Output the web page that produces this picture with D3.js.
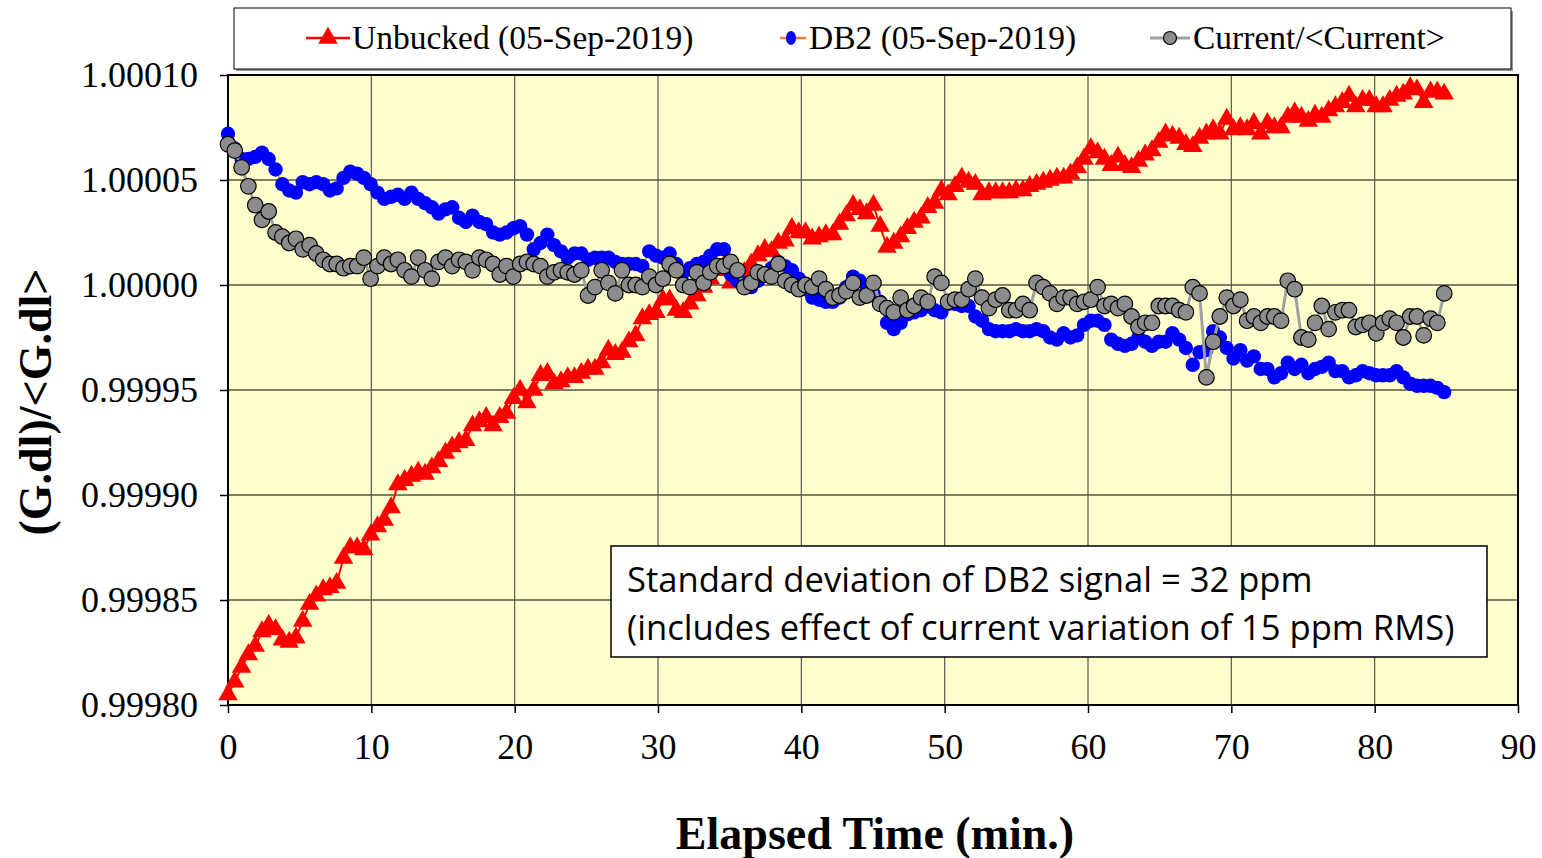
<!DOCTYPE html>
<html>
<head>
<meta charset="utf-8">
<script src="https://cdn.jsdelivr.net/npm/d3@7"></script>
<style>
  html, body { margin: 0; padding: 0; background: #fff; }
  svg { display: block; }
</style>
</head>
<body>
<svg id="chart" width="1542" height="858"></svg>
<script>
// ---------------- DATA ----------------
const times = [0,0.47,0.95,1.42,1.90,2.37,2.84,3.32,3.79,4.27,
4.74,5.21,5.69,6.16,6.64,7.11,7.58,8.06,8.53,9.01,
9.48,9.95,10.43,10.90,11.38,11.85,12.32,12.80,13.27,13.75,
14.22,14.69,15.17,15.64,16.12,16.59,17.06,17.54,18.01,18.49,
18.96,19.43,19.91,20.38,20.86,21.33,21.80,22.28,22.75,23.23,
23.70,24.17,24.65,25.12,25.60,26.07,26.54,27.02,27.49,27.97,
28.44,28.91,29.39,29.86,30.34,30.81,31.28,31.76,32.23,32.71,
33.18,33.65,34.13,34.60,35.08,35.55,36.02,36.50,36.97,37.45,
37.92,38.39,38.87,39.34,39.82,40.29,40.76,41.24,41.71,42.19,
42.66,43.13,43.61,44.08,44.56,45.03,45.50,45.98,46.45,46.93,
47.40,47.87,48.35,48.82,49.30,49.77,50.24,50.72,51.19,51.67,
52.14,52.61,53.09,53.56,54.04,54.51,54.98,55.46,55.93,56.41,
56.88,57.35,57.83,58.30,58.78,59.25,59.72,60.20,60.67,61.15,
61.62,62.09,62.57,63.04,63.52,63.99,64.46,64.94,65.41,65.89,
66.36,66.83,67.31,67.78,68.26,68.73,69.20,69.68,70.15,70.63,
71.10,71.57,72.05,72.52,73.00,73.47,73.94,74.42,74.89,75.37,
75.84,76.31,76.79,77.26,77.74,78.21,78.68,79.16,79.63,80.11,
80.58,81.05,81.53,82.00,82.48,82.95,83.42,83.90,84.37,84.85];

const unbucked = [0.999805,0.999811,0.999818,0.999824,0.999828,0.999835,0.999838,0.999836,0.999831,0.999830,
0.999832,0.999840,0.999848,0.999852,0.999855,0.999856,0.999858,0.999870,0.999875,0.999875,
0.999874,0.999881,0.999885,0.999888,0.999894,0.999905,0.999907,0.999909,0.999911,0.999910,
0.999913,0.999916,0.999920,0.999923,0.999925,0.999926,0.999933,0.999935,0.999937,0.999933,
0.999937,0.999939,0.999946,0.999950,0.999944,0.999950,0.999957,0.999958,0.999953,0.999954,
0.999956,0.999956,0.999958,0.999960,0.999960,0.999963,0.999969,0.999967,0.999968,0.999973,
0.999976,0.999984,0.999986,0.999987,0.999993,0.999993,0.999988,0.999987,0.999991,0.999995,
0.999999,1.000003,1.000007,1.000009,1.000001,1.000004,1.000006,1.000010,1.000014,1.000017,
1.000016,1.000020,1.000021,1.000027,1.000025,1.000025,1.000022,1.000023,1.000024,1.000024,
1.000029,1.000033,1.000038,1.000036,1.000034,1.000038,1.000028,1.000018,1.000020,1.000023,
1.000027,1.000030,1.000032,1.000037,1.000039,1.000045,1.000043,1.000047,1.000051,1.000049,
1.000048,1.000043,1.000044,1.000044,1.000044,1.000044,1.000045,1.000045,1.000047,1.000048,
1.000049,1.000050,1.000051,1.000051,1.000053,1.000056,1.000060,1.000065,1.000063,1.000060,
1.000057,1.000061,1.000057,1.000056,1.000059,1.000062,1.000064,1.000068,1.000072,1.000071,
1.000070,1.000067,1.000066,1.000070,1.000072,1.000074,1.000072,1.000079,1.000074,1.000075,
1.000074,1.000077,1.000072,1.000077,1.000075,1.000075,1.000080,1.000082,1.000080,1.000078,
1.000081,1.000080,1.000083,1.000085,1.000087,1.000090,1.000085,1.000088,1.000088,1.000085,
1.000085,1.000088,1.000090,1.000091,1.000094,1.000093,1.000087,1.000092,1.000092,1.000091];

const db2 = [1.000072,1.000065,1.000060,1.000060,1.000061,1.000063,1.000060,1.000055,1.000048,1.000045,
1.000044,1.000049,1.000048,1.000049,1.000048,1.000045,1.000046,1.000051,1.000054,1.000053,
1.000051,1.000048,1.000044,1.000041,1.000042,1.000043,1.000041,1.000044,1.000041,1.000039,
1.000037,1.000034,1.000036,1.000037,1.000032,1.000030,1.000033,1.000030,1.000029,1.000025,
1.000024,1.000025,1.000027,1.000028,1.000024,1.000017,1.000020,1.000024,1.000019,1.000016,
1.000013,1.000015,1.000015,1.000012,1.000013,1.000013,1.000013,1.000011,1.000010,1.000010,
1.000010,1.000009,1.000016,1.000014,1.000013,1.000015,1.000010,1.000006,1.000008,1.000010,
1.000011,1.000014,1.000017,1.000017,1.000005,1.000002,1.000001,0.999999,1.000002,1.000005,
1.000008,1.000011,1.000009,1.000007,1.000003,0.999998,0.999994,0.999993,0.999992,0.999992,
0.999994,0.999999,1.000004,1.000002,0.999999,0.999996,0.999992,0.999982,0.999979,0.999982,
0.999986,0.999987,0.999988,0.999990,0.999988,0.999987,0.999991,0.999991,0.999990,0.999990,
0.999985,0.999983,0.999979,0.999978,0.999978,0.999978,0.999979,0.999978,0.999978,0.999979,
0.999978,0.999975,0.999974,0.999977,0.999975,0.999976,0.999981,0.999983,0.999983,0.999981,
0.999974,0.999972,0.999971,0.999972,0.999975,0.999973,0.999971,0.999973,0.999973,0.999977,
0.999974,0.999970,0.999962,0.999968,0.999969,0.999978,0.999975,0.999970,0.999965,0.999969,
0.999964,0.999966,0.999960,0.999960,0.999956,0.999958,0.999963,0.999960,0.999962,0.999958,
0.999960,0.999961,0.999963,0.999959,0.999959,0.999956,0.999957,0.999959,0.999958,0.999957,
0.999957,0.999957,0.999959,0.999956,0.999953,0.999952,0.999952,0.999952,0.999951,0.999949];

const current = [1.000067,1.000064,1.000056,1.000047,1.000038,1.000031,1.000035,1.000025,1.000023,1.000020,
1.000022,1.000017,1.000019,1.000015,1.000012,1.000010,1.000010,1.000008,1.000009,1.000009,
1.000013,1.000003,1.000009,1.000013,1.000010,1.000012,1.000007,1.000004,1.000013,1.000007,
1.000003,1.000011,1.000013,1.000009,1.000012,1.000011,1.000007,1.000013,1.000012,1.000010,
1.000005,1.000009,1.000004,1.000010,1.000011,1.000010,1.000009,1.000004,1.000006,1.000007,
1.000006,1.000005,1.000007,0.999995,0.999999,1.000007,1.000001,0.999996,1.000007,1.000000,
1.000000,0.999999,1.000004,1.000000,1.000003,1.000010,1.000007,1.000000,0.999999,1.000006,
1.000001,1.000006,1.000009,1.000009,1.000011,1.000007,0.999999,1.000001,1.000006,1.000005,
1.000004,1.000010,1.000002,1.000000,0.999998,1.000000,0.999999,1.000003,0.999998,0.999994,
0.999995,0.999997,1.000001,0.999994,0.999995,1.000001,0.999991,0.999989,0.999987,0.999994,
0.999988,0.999990,0.999994,0.999992,1.000004,1.000001,0.999992,0.999993,0.999993,0.999998,
1.000003,0.999994,0.999989,0.999993,0.999995,0.999988,0.999988,0.999991,0.999988,1.000001,
0.999999,0.999996,0.999991,0.999994,0.999994,0.999991,0.999992,0.999993,0.999999,0.999990,
0.999991,0.999989,0.999991,0.999985,0.999980,0.999982,0.999982,0.999990,0.999990,0.999990,
0.999988,0.999987,0.999999,0.999996,0.999956,0.999973,0.999985,0.999994,0.999990,0.999993,
0.999983,0.999985,0.999982,0.999985,0.999985,0.999983,1.000002,0.999998,0.999975,0.999974,
0.999982,0.999990,0.999979,0.999987,0.999988,0.999988,0.999980,0.999981,0.999982,0.999977,
0.999982,0.999984,0.999982,0.999975,0.999985,0.999985,0.999976,0.999984,0.999982,0.999996];

const xTicks = [0, 10, 20, 30, 40, 50, 60, 70, 80, 90];
const yTicks = [0.99980, 0.99985, 0.99990, 0.99995, 1.00000, 1.00005, 1.00010];
const yTickLabels = ["0.99980", "0.99985", "0.99990", "0.99995", "1.00000", "1.00005", "1.00010"];
const seriesNames = ["Unbucked (05-Sep-2019)", "DB2 (05-Sep-2019)", "Current/<Current>"];
const xTitle = "Elapsed Time (min.)";
const yTitle = "(G.dl)/<G.dl>";
const noteLines = ["Standard deviation of DB2 signal = 32 ppm",
                   "(includes effect of current variation of 15 ppm RMS)"];

// ---------------- LAYOUT ----------------
const svg = d3.select("#chart");
const plot = { left: 228, right: 1518, top: 75, bottom: 705 };
const serif = "'Liberation Serif', 'Times New Roman', serif";

const x = d3.scaleLinear().domain([0, 90]).range([plot.left, plot.right]);
const y = d3.scaleLinear().domain([0.9998, 1.0001]).range([plot.bottom, plot.top]);

// plot background
svg.append("rect")
  .attr("x", plot.left).attr("y", plot.top)
  .attr("width", plot.right - plot.left).attr("height", plot.bottom - plot.top)
  .attr("fill", "#FFFFCC");

// grid
svg.append("g").selectAll("line").data(yTicks.slice(1, -1)).join("line")
  .attr("x1", plot.left).attr("x2", plot.right)
  .attr("y1", d => y(d)).attr("y2", d => y(d))
  .attr("stroke", "#000").attr("stroke-width", 1.2);
svg.append("g").selectAll("line").data(xTicks.slice(1, -1)).join("line")
  .attr("y1", plot.top).attr("y2", plot.bottom)
  .attr("x1", d => x(d)).attr("x2", d => x(d))
  .attr("stroke", "#555").attr("stroke-width", 1.2);

// axes
const yAxis = svg.append("g")
  .attr("transform", `translate(${plot.left},0)`)
  .call(d3.axisLeft(y).tickValues(yTicks).tickSize(8).tickPadding(22)
        .tickFormat((d, i) => yTickLabels[i]));
const xAxis = svg.append("g")
  .attr("transform", `translate(0,${plot.bottom})`)
  .call(d3.axisBottom(x).tickValues(xTicks).tickSize(8).tickPadding(20));
[yAxis, xAxis].forEach(a => {
  a.select(".domain").remove();
  a.selectAll(".tick line").attr("stroke", "#000").attr("stroke-width", 1.5);
  a.selectAll(".tick text").attr("font-family", serif).attr("font-size", 36).attr("fill", "#000");
});

// border
svg.append("rect")
  .attr("x", plot.left).attr("y", plot.top)
  .attr("width", plot.right - plot.left).attr("height", plot.bottom - plot.top)
  .attr("fill", "none").attr("stroke", "#000").attr("stroke-width", 2);

// ---------------- SERIES ----------------
const pts = arr => arr.map((v, i) => [times[i], v]);
const line = d3.line().x(d => x(d[0])).y(d => y(d[1]));
const tri = d3.symbol().type(d3.symbolTriangle).size(165);

const gData = svg.append("g");
// Unbucked
gData.append("path").datum(pts(unbucked)).attr("d", line)
  .attr("fill", "none").attr("stroke", "#FF0000").attr("stroke-width", 2);
gData.append("g").selectAll("path").data(pts(unbucked)).join("path")
  .attr("d", tri).attr("transform", d => `translate(${x(d[0])},${y(d[1])})`)
  .attr("fill", "#FF0000");
// DB2
gData.append("path").datum(pts(db2)).attr("d", line)
  .attr("fill", "none").attr("stroke", "#ED7D31").attr("stroke-width", 1.5);
gData.append("g").selectAll("circle").data(pts(db2)).join("circle")
  .attr("cx", d => x(d[0])).attr("cy", d => y(d[1])).attr("r", 7.2)
  .attr("fill", "#0000FF");
// Current
gData.append("path").datum(pts(current)).attr("d", line)
  .attr("fill", "none").attr("stroke", "#A0A0A0").attr("stroke-width", 3);
gData.append("g").selectAll("circle").data(pts(current)).join("circle")
  .attr("cx", d => x(d[0])).attr("cy", d => y(d[1])).attr("r", 7.8)
  .attr("fill", "#8C8C8C").attr("stroke", "#000").attr("stroke-width", 1.2);

// ---------------- LEGEND ----------------
svg.append("rect").attr("x", 236).attr("y", 11).attr("width", 1277).attr("height", 60).attr("fill", "#999");
svg.append("rect").attr("x", 234).attr("y", 8).attr("width", 1277).attr("height", 61)
  .attr("fill", "#fff").attr("stroke", "#000").attr("stroke-width", 1);
const leg = [
  { x0: 306, x1: 350, mx: 328, tx: 352, color: "#FF0000", mark: "tri" },
  { x0: 780, x1: 806, mx: 791, tx: 809, color: "#ED7D31", mark: "dot" },
  { x0: 1150, x1: 1190, mx: 1170, tx: 1193, color: "#A0A0A0", mark: "gray" }
];
const legY = 38;
leg.forEach((L, i) => {
  svg.append("line").attr("x1", L.x0).attr("x2", L.x1).attr("y1", legY).attr("y2", legY)
    .attr("stroke", L.color).attr("stroke-width", i === 2 ? 3 : 2.5);
  if (L.mark === "tri") {
    svg.append("path").attr("d", tri).attr("transform", `translate(${L.mx},${legY})`).attr("fill", "#FF0000");
  } else if (L.mark === "dot") {
    svg.append("ellipse").attr("cx", L.mx).attr("cy", legY).attr("rx", 5).attr("ry", 7).attr("fill", "#0000FF");
  } else {
    svg.append("circle").attr("cx", L.mx).attr("cy", legY).attr("r", 6.5)
      .attr("fill", "#8C8C8C").attr("stroke", "#000").attr("stroke-width", 1.2);
  }
  svg.append("text").attr("x", L.tx).attr("y", legY).attr("dy", "0.33em")
    .attr("font-family", serif).attr("font-size", 33.5).attr("fill", "#000")
    .text(seriesNames[i]);
});

// ---------------- NOTE BOX ----------------
svg.append("rect").attr("x", 611).attr("y", 546).attr("width", 876).attr("height", 111)
  .attr("fill", "#fff").attr("stroke", "#000").attr("stroke-width", 1.5);
noteLines.forEach((t, i) => {
  svg.append("text").attr("x", 627).attr("y", 580 + i * 48).attr("dy", "0.35em")
    .attr("font-family", "'Open Sans', 'Noto Sans', sans-serif").attr("font-size", 34.6)
    .attr("fill", "#000").text(t);
});

// ---------------- TITLES ----------------
svg.append("text").attr("x", 875).attr("y", 833).attr("dy", "0.35em")
  .attr("text-anchor", "middle").attr("font-family", serif).attr("font-weight", "bold")
  .attr("font-size", 46).attr("fill", "#000").text(xTitle);
svg.append("text").attr("transform", "translate(35,402) rotate(-90)").attr("dy", "0.35em")
  .attr("text-anchor", "middle").attr("font-family", serif).attr("font-weight", "bold")
  .attr("font-size", 46).attr("fill", "#000").text(yTitle);
</script>
</body>
</html>
